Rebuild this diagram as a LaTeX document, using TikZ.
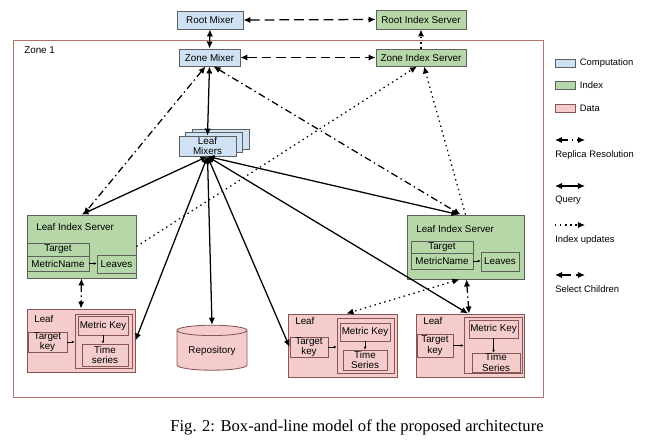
\documentclass[tikz,border=0pt]{standalone}
\usepackage{fontspec}
\setmainfont{Liberation Serif}
\setsansfont{Liberation Sans}
\usepackage{tikz}
\usetikzlibrary{arrows.meta,backgrounds,calc,positioning,shapes.geometric}
\definecolor{compblue}{HTML}{CFE2F3}
\definecolor{indexgreen}{HTML}{B6D7A8}
\definecolor{datapink}{HTML}{F4CCCC}
\definecolor{zoneline}{RGB}{175,115,105}
\definecolor{boxline}{RGB}{95,95,95}
\definecolor{dataline}{RGB}{135,85,85}
\newcommand{\pu}{0.025cm}

\tikzset{
  wh/.style 2 args={minimum width=#1*\pu, minimum height=#2*\pu},
  box/.style={draw=boxline, line width=0.6pt, inner sep=0pt, align=center,
    font=\sffamily\fontsize{7}{7.6}\selectfont},
  compbox/.style={box, fill=compblue},
  indexbox/.style={box, fill=indexgreen},
  databox/.style={box, fill=datapink, draw=dataline},
  lbl/.style={font=\sffamily\fontsize{7}{8}\selectfont, inner sep=0pt},
  legtxt/.style={font=\sffamily\fontsize{6.7}{8}\selectfont, inner sep=0pt},
  tips/.style={>={Latex[length=5pt,width=4.5pt]}},
  queryline/.style={tips, <->, line width=0.9pt},
  replicaline/.style={tips, <->, line width=0.9pt, dash pattern=on 5pt off 2.5pt on 1pt off 2.5pt},
  updateline/.style={tips, ->, line width=0.9pt, dash pattern=on 1pt off 2.6pt},
  updateboth/.style={updateline, <->},
  selectline/.style={tips, <->, line width=0.9pt, dash pattern=on 7pt off 3.5pt},
  smallarrow/.style={-{Latex[length=2pt,width=2pt]}, line width=0.4pt}
}

\begin{document}
\begin{tikzpicture}[x=\pu,y=-\pu]
\useasboundingbox[fill=white] (0,0) rectangle (645,447);

% zone frame
\draw[zoneline, line width=0.6pt] (13,40) rectangle (543,397);
\node[lbl, anchor=west] (zonelbl) at (24,50) {Zone 1};

% mixers and index servers at the top
\node[compbox, wh={66}{18}] (rootmix) at (210,20) {Root Mixer};
\node[indexbox, wh={90}{19}] (rootidx) at (421,19.5) {Root Index Server};
\node[compbox, wh={61}{17}] (zonemix) at (209.5,57.5) {Zone Mixer};
\node[indexbox, wh={90}{17}] (zoneidx) at (421,57.5) {Zone Index Server};

% leaf mixers (stack)
\node[compbox, wh={57}{20}] (lmback2) at (220.5,139) {};
\node[compbox, wh={57}{20}] (lmback1) at (214,142.5) {};
\node[compbox, wh={57}{20}] (lm) at (207.5,146) {Leaf\\Mixers};

% left leaf index server
\node[indexbox, wh={109}{63}] (lisL) at (81.5,246.5) {};
\node[lbl, anchor=west] (lisLlbl) at (36,227) {Leaf Index Server};
\node[indexbox, wh={62}{13}] (tgL) at (58,249.5) {Target};
\node[indexbox, wh={62}{15}] (mnL) at (58,263.5) {MetricName};
\node[indexbox, wh={39}{18}] (lvL) at (116.5,264) {Leaves};

% right leaf index server
\node[indexbox, wh={117}{64}] (lisR) at (465.5,247) {};
\node[lbl, anchor=west] (lisRlbl) at (416,229) {Leaf Index Server};
\node[indexbox, wh={62}{12}] (tgR) at (442,247) {Target};
\node[indexbox, wh={62}{16}] (mnR) at (442,261) {MetricName};
\node[indexbox, wh={38}{19}] (lvR) at (500,261.5) {Leaves};

% left leaf
\node[databox, wh={108}{63}] (leafL) at (81,340.5) {};
\node[lbl, anchor=west] (leafLlbl) at (34,319) {Leaf};
\node[databox, wh={39}{20}] (tkL) at (47.5,342) {Target\\key};
\node[databox, wh={57}{54}] (inL) at (103.5,341) {};
\node[databox, wh={50}{19}] (mkL) at (103,325.5) {Metric Key};
\node[databox, wh={46}{22}] (tsL) at (105,355) {Time\\series};

% repository
\node[databox, cylinder, shape border rotate=90, aspect=0.22,
  minimum width=70*\pu, minimum height=45*\pu] (repo) at (212,350.5) {Repository};

% middle leaf
\node[databox, wh={109}{63}] (leafM) at (342.5,345.5) {};
\node[lbl, anchor=west] (leafMlbl) at (295,321) {Leaf};
\node[databox, wh={38}{20}] (tkM) at (309,347) {Target\\key};
\node[databox, wh={57}{55}] (inM) at (365.5,345.5) {};
\node[databox, wh={50}{18}] (mkM) at (365,332) {Metric Key};
\node[databox, wh={44}{20}] (tsM) at (365,360) {Time\\Series};

% right leaf
\node[databox, wh={108}{63}] (leafR) at (470,345.5) {};
\node[lbl, anchor=west] (leafRlbl) at (423,321) {Leaf};
\node[databox, wh={36}{23}] (tkR) at (435,345.5) {Target\\key};
\node[databox, wh={58}{56}] (inR) at (493,345) {};
\node[databox, wh={49}{18}] (mkR) at (493.5,329) {Metric Key};
\node[databox, wh={48}{19}] (tsR) at (496,362.5) {Time\\Series};

% small arrows inside the boxes
\draw[smallarrow] (mnL.east) -- (mnL.east -| lvL.west);
\draw[smallarrow] (mnR.east) -- (mnR.east -| lvR.west);
\draw[smallarrow] (tkL.east) -- (tkL.east -| inL.west);
\draw[smallarrow] (tkM.east) -- (tkM.east -| inM.west);
\draw[smallarrow] (tkR.east) -- (tkR.east -| inR.west);
\draw[smallarrow] (mkL.south) -- (mkL.south |- tsL.north);
\draw[smallarrow] (mkM.south) -- (mkM.south |- tsM.north);
\draw[smallarrow] (mkR.south) -- (mkR.south |- tsR.north);

% select children
\draw[selectline] (rootmix.east) -- (rootidx.west);
\draw[selectline] (zonemix.east) -- (zoneidx.west);

% query
\draw[queryline] (rootmix.south) -- (zonemix.north);
\draw[queryline] (zonemix.south) -- (lm.north);
\draw[queryline] (lm.south) -- (lisL.north);
\draw[queryline] (lm.south) -- (leafL.east);
\draw[queryline] (lm.south) -- (repo.north);
\draw[queryline] (lm.south) -- (tkM.west);
\draw[queryline] (lm.south) -- ($(leafR.north)+(-2,0)$);
\draw[queryline] (lm.south) -- ($(lisR.north)+(-7,0)$);

% replica resolution
\draw[replicaline] ($(zonemix.south)+(-4,0)$) -- ($(lisL.north)+(2,0)$);
\draw[replicaline] ($(zonemix.south)+(4,0)$) -- ($(lisR.north)+(-5,0)$);
\draw[replicaline] (lisL.south) -- (leafL.north);
\draw[replicaline] ($(lisR.south)+(1,0)$) -- ($(leafR.north)+(-1,0)$);

% index updates
\draw[updateline] (zoneidx.north) -- (rootidx.south);
\draw[updateline] ($(lisL.east)+(0,0)$) -- ($(zoneidx.south)+(-4,0)$);
\draw[updateline] ($(lisR.north)+(0,0)$) -- ($(zoneidx.south)+(3,0)$);
\draw[updateboth] ($(lisR.south)+(-6,0)$) -- ($(leafM.north)+(4,0)$);

% legend
\node[compbox, wh={20}{8}] (legcomp) at (565,63) {};
\node[legtxt, right=3pt of legcomp] (legcomplbl) {Computation};
\node[indexbox, wh={20}{8}] (legidx) at (565,85) {};
\node[legtxt, right=3pt of legidx] (legidxlbl) {Index};
\node[databox, wh={20}{8}] (legdata) at (565,108) {};
\node[legtxt, right=3pt of legdata] (legdatalbl) {Data};

\coordinate (repa) at (555,140);
\coordinate (repb) at (585,140);
\draw[replicaline] (repa) -- (repb);
\node[legtxt, anchor=west] (replbl) at (555,155) {Replica Resolution};

\coordinate (qa) at (555,186);
\coordinate (qb) at (585,186);
\draw[queryline] (qa) -- (qb);
\node[legtxt, anchor=west] (qlbl) at (555,200) {Query};

\coordinate (ua) at (555,225);
\coordinate (ub) at (585,225);
\draw[updateline] (ua) -- (ub);
\node[legtxt, anchor=west] (ulbl) at (555,240) {Index updates};

\coordinate (sa) at (555,275);
\coordinate (sb) at (585,275);
\draw[selectline] (sa) -- (sb);
\node[legtxt, anchor=west] (slbl) at (555,289) {Select Children};

% caption
\node[font=\fontsize{11.8}{14}\selectfont, inner sep=0pt] (caption) at (357,427)
  {Fig. 2: Box-and-line model of the proposed architecture};
\end{tikzpicture}
\end{document}
